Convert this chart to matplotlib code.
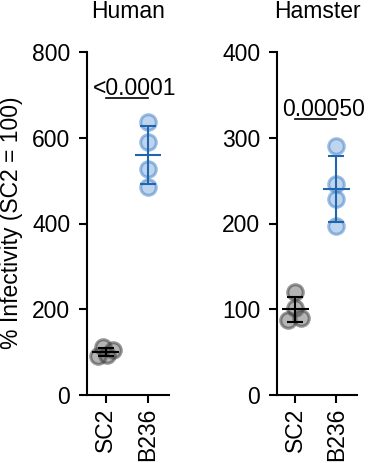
import matplotlib
matplotlib.use("Agg")
import matplotlib.pyplot as plt
import numpy as np

plt.rcParams["font.family"] = ["Liberation Sans", "DejaVu Sans"]

groups = ["SC2", "B236"]

human_sc2 = [91, 112, 104, 93]
human_b236 = [636, 590, 526, 484]
hamster_sc2 = [120, 102, 88, 90]
hamster_b236 = [290, 246, 228, 197]

human_p = "<0.0001"
hamster_p = "0.00050"

human_yticks = [0, 200, 400, 600, 800]
hamster_yticks = [0, 100, 200, 300, 400]

# horizontal jitter of the dots (layout only)
human_jitter = [[-0.19, -0.07, 0.17, 0.02], [0, 0, 0, 0]]
hamster_jitter = [[0.0, 0.0, -0.17, 0.14], [0, 0, 0, 0]]

BLUE = "#1f66ae"
FS = 16.5
W, H = 370, 463


def draw_panel(ax, series, jitter, title, yticks, p_text, p_y):
    colors = [
        ((0.35, 0.35, 0.35, 0.45), (0.25, 0.25, 0.25, 0.55), "black"),
        ((0.29, 0.53, 0.80, 0.35), (0.29, 0.53, 0.80, 0.55), BLUE),
    ]
    for i, (vals, jit) in enumerate(zip(series, jitter)):
        x = i + 1
        face, edge, line = colors[i]
        ax.scatter(np.array(jit) + x, vals, s=125, facecolor=face,
                   edgecolor=edge, linewidth=2.2, zorder=2, clip_on=False)
        mean = np.mean(vals)
        sd = np.std(vals, ddof=1)
        ax.errorbar(x, mean, yerr=sd, fmt="none", ecolor=line,
                    elinewidth=1.5, capsize=6, capthick=1.5, zorder=3)
        ax.hlines(mean, x - 0.32, x + 0.32, color=line, lw=1.5, zorder=3)

    ax.plot([1, 2], [p_y, p_y], color="black", lw=1.2)
    ax.text(1.68, p_y + yticks[-1] * 0.008, p_text, ha="center",
            va="baseline", fontsize=FS)

    ax.set_xlim(0.55, 2.5)
    ax.set_ylim(yticks[0], yticks[-1])
    ax.set_yticks(yticks)
    ax.set_xticks([1, 2])
    ax.set_xticklabels(groups, rotation=90)
    for side in ["top", "right"]:
        ax.spines[side].set_visible(False)
    for side in ["left", "bottom"]:
        ax.spines[side].set_linewidth(1.5)
    ax.tick_params(width=1.5, length=6, labelsize=FS)
    ax.tick_params(axis="y", pad=6)
    ax.tick_params(axis="x", pad=3)

    box = ax.get_position()
    ax.figure.text((box.x0 + box.x1) / 2, 1 - 18 / H, title,
                   ha="center", va="baseline", fontsize=FS)


fig = plt.figure(figsize=(W / 100, H / 100), dpi=100)
ax1 = fig.add_axes([87 / W, 68 / H, 82 / W, 343 / H])
ax2 = fig.add_axes([277 / W, 68 / H, 80 / W, 343 / H])

draw_panel(ax1, [human_sc2, human_b236], human_jitter, "Human",
           human_yticks, human_p, 693)
draw_panel(ax2, [hamster_sc2, hamster_b236], hamster_jitter, "Hamster",
           hamster_yticks, hamster_p, 322)

fig.text(12 / W, 1 - 223 / H, "% Infectivity (SC2 = 100)", rotation=90,
         ha="center", va="center", fontsize=FS)

fig.savefig("out.png", dpi=100)
